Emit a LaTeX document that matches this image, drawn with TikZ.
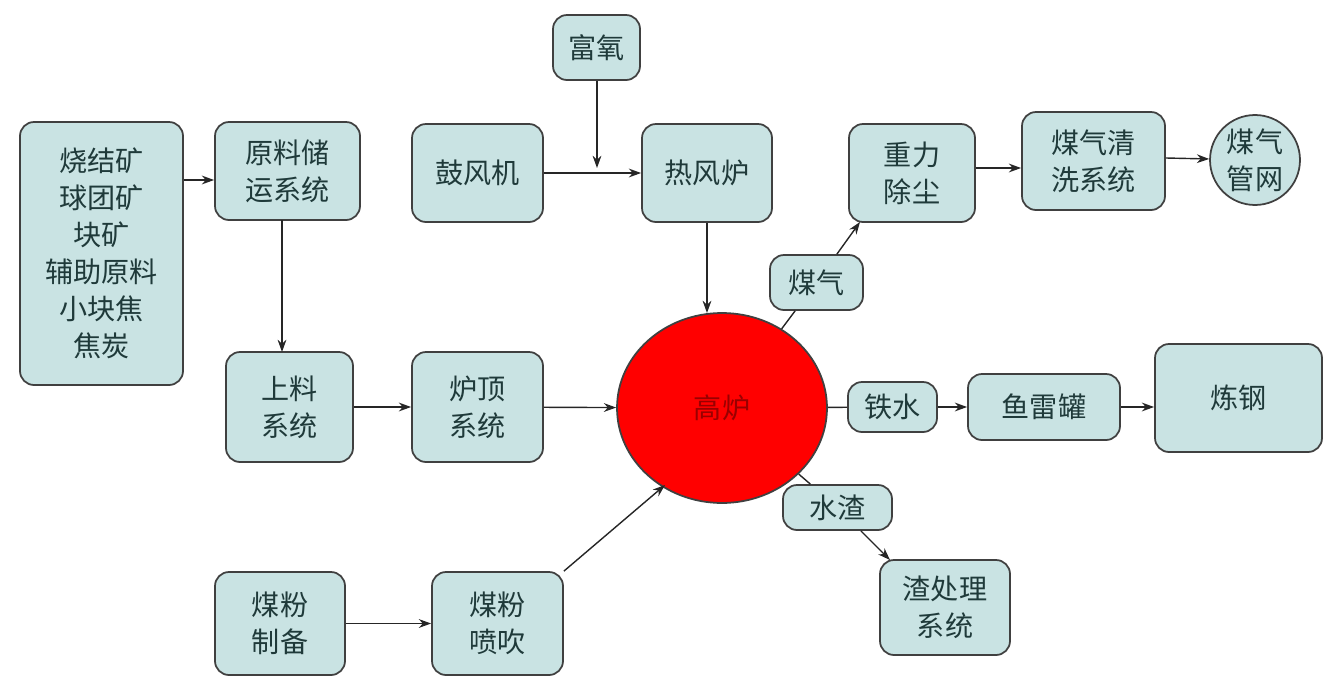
\documentclass[tikz,border=0pt]{standalone}
\usepackage{fontspec}
\setmainfont{Noto Sans CJK SC}
\usetikzlibrary{shapes.geometric,arrows.meta}
\definecolor{bx}{HTML}{C9E3E3}
\definecolor{tx}{HTML}{1F3A3A}
\begin{document}
\begin{tikzpicture}[x=0.02cm,y=-0.02cm,
  bb/.style={draw=black!75,line width=1pt,fill=bx,rounded corners=8pt,text=tx,font=\fontsize{16}{21}\selectfont,align=center,inner sep=0pt},
  ar/.style={-{Stealth[length=7pt,width=5pt]},line width=0.8pt,black!85},
  ln/.style={line width=0.8pt,black!85}]
\useasboundingbox (0,0) rectangle (1333,690);
\newcommand\bxn[6]{\node[bb,minimum width={(#3-#2)*0.02cm},minimum height={(#5-#4)*0.02cm}] (#1) at ({(#2+#3)/2},{(#4+#5)/2}) {#6};}
\bxn{raw}{20}{183}{122}{385}{烧结矿\\球团矿\\块矿\\辅助原料\\小块焦\\焦炭}
\bxn{store}{215}{360}{122}{220}{原料储\\运系统}
\bxn{feed}{226}{353}{352}{462}{上料\\系统}
\bxn{top}{412}{543}{352}{462}{炉顶\\系统}
\bxn{cprep}{215}{345}{572}{675}{煤粉\\制备}
\bxn{cinj}{432}{563}{572}{675}{煤粉\\喷吹}
\bxn{oxy}{553}{640}{15}{80}{富氧}
\bxn{blow}{412}{543}{124}{222}{鼓风机}
\bxn{hot}{642}{772}{124}{222}{热风炉}
\bxn{gas}{770}{863}{255}{310}{煤气}
\bxn{grav}{849}{975}{124}{222}{重力\\除尘}
\bxn{wash}{1022}{1165}{112}{210}{煤气清\\洗系统}
\bxn{iron}{848}{937}{382}{432}{铁水}
\bxn{torp}{968}{1120}{374}{440}{鱼雷罐}
\bxn{steel}{1155}{1322}{344}{452}{炼钢}
\bxn{slag}{783}{892}{485}{530}{水渣}
\bxn{sproc}{880}{1010}{560}{655}{渣处理\\系统}
\node[ellipse,draw=black!75,line width=1pt,fill=red,minimum width=4.2cm,minimum height=3.8cm,text=red!60!black,font=\fontsize{16}{21}\selectfont] (bf) at (722,408) {高炉};
\node[circle,draw=black!75,line width=1pt,fill=bx,minimum size=1.8cm,inner sep=0pt,align=center,text=tx,font=\fontsize{16}{21}\selectfont] (net) at (1255,160) {煤气\\管网};
\coordinate (oj) at (597,168);
\draw[ar] (raw.east|-0,180) -- (store.west|-0,180);
\draw[ar] (282,220) -- (282,352);
\draw[ar] (feed) -- (top);
\draw[ar] (top) -- (bf);
\draw[ar] (cprep) -- (cinj);
\draw[ar] (cinj.north east) -- (665,485);
\draw[ar] (blow) -- (hot);
\draw[ar] (oxy.south-|oj) -- (oj);
\draw[ar] (hot.south-|707,0) -- (707,313);
\draw[ln] (bf) -- (gas);
\draw[ar] (gas) -- (860,222);
\draw[ar] (grav.east|-0,168) -- (wash.west|-0,168);
\draw[ar] (wash.east|-0,158) -- (net);
\draw[ln] (bf) -- (iron);
\draw[ar] (iron) -- (torp);
\draw[ar] (torp) -- (steel.west|-0,407);
\draw[ln] (bf) -- (slag);
\draw[ar] (slag) -- (890,560);
\end{tikzpicture}
\end{document}
